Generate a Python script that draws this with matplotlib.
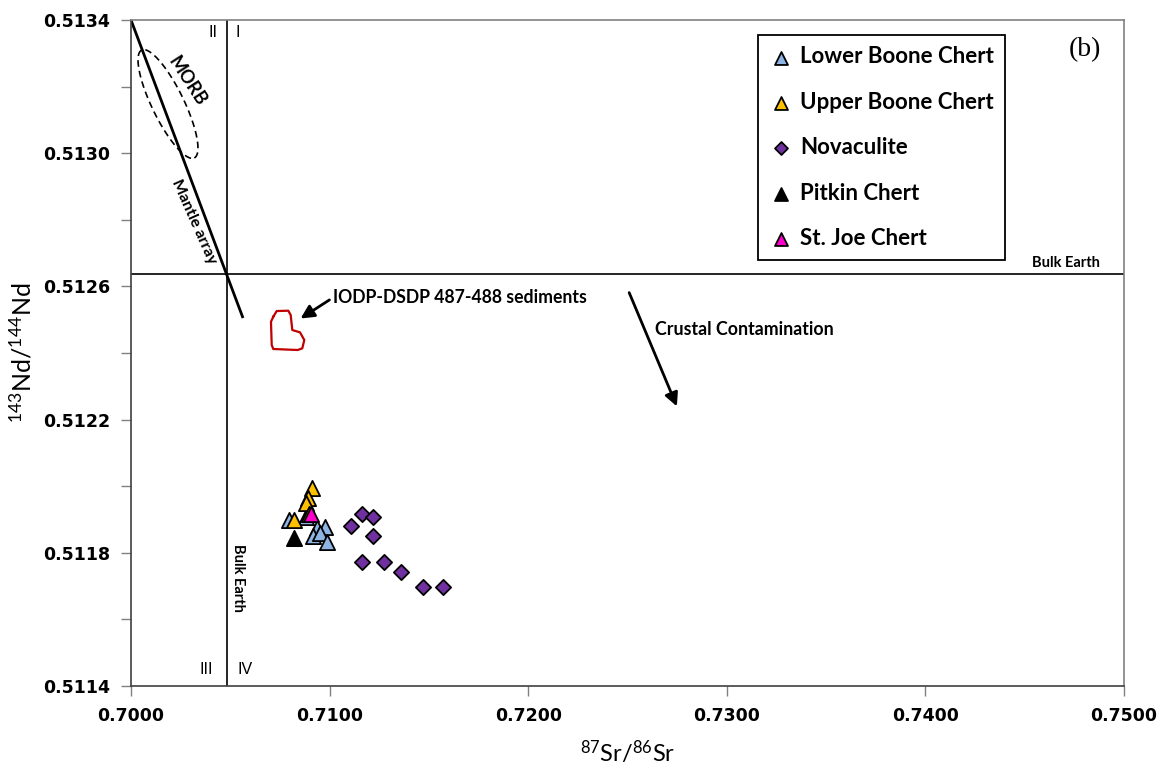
import numpy as np
import matplotlib
matplotlib.use("Agg")
import matplotlib.pyplot as plt

plt.rcParams['mathtext.fontset'] = 'custom'
plt.rcParams['mathtext.rm'] = 'Lato'
plt.rcParams['mathtext.it'] = 'Lato:italic'
plt.rcParams['mathtext.default'] = 'regular'

# ---- data ----
lower_boone_sr = [0.70796, 0.70881, 0.70937, 0.70977, 0.70916, 0.70952, 0.70987]
lower_boone_nd = [0.511898, 0.511907, 0.511874, 0.511877, 0.511850, 0.511859, 0.511832]

upper_boone_sr = [0.70911, 0.70891, 0.70881, 0.70821, 0.70896]
upper_boone_nd = [0.511995, 0.511965, 0.511950, 0.511898, 0.511917]

novaculite_sr = [0.71162, 0.71220, 0.71108, 0.71220, 0.71162, 0.71275, 0.71360, 0.71472, 0.71573]
novaculite_nd = [0.511917, 0.511907, 0.511881, 0.511851, 0.511773, 0.511773, 0.511743, 0.511698, 0.511696]

pitkin_sr = [0.70821]
pitkin_nd = [0.511844]

stjoe_sr = [0.70906]
stjoe_nd = [0.511917]

bulk_earth_sr = 0.70483
bulk_earth_nd = 0.512638

mantle_array_sr = [0.7000, 0.70564]
mantle_array_nd = [0.51340, 0.512505]

iodp_sr = [0.707165, 0.707336, 0.707920, 0.708041, 0.708122, 0.708510, 0.708726,
           0.708625, 0.708394, 0.707165, 0.707085, 0.707049, 0.707165]
iodp_nd = [0.512509, 0.512526, 0.512527, 0.512514, 0.512469, 0.512462, 0.512439,
           0.512414, 0.512409, 0.512412, 0.512424, 0.512494, 0.512509]

x_ticks = [0.70, 0.71, 0.72, 0.73, 0.74, 0.75]
y_ticks = [0.5114, 0.5118, 0.5122, 0.5126, 0.5130, 0.5134]

# ---- figure ----
fig = plt.figure(figsize=(11.66, 7.68), dpi=100)
ax = fig.add_axes([131/1166, 82/768, 993/1166, 666/768])
ax.set_xlim(0.70, 0.75)
ax.set_ylim(0.5114, 0.5134)

# reference lines
ax.axvline(bulk_earth_sr, color='black', lw=1.2, zorder=2)
ax.axhline(bulk_earth_nd, color='black', lw=1.2, zorder=2)
ax.plot(mantle_array_sr, mantle_array_nd, color='black', lw=2.0, zorder=2, solid_capstyle='butt')

# MORB dashed ellipse (drawn in pixel-like units, then axes fraction)
W, H = 993.0, 666.0
cx, cy = 168.0 - 131.0, 686.0 - 104.0
a, b = 60.0, 16.0
ang = np.deg2rad(-64)
t = np.linspace(0, 2*np.pi, 200)
ex = a*np.cos(t)
ey = b*np.sin(t)
px = cx + ex*np.cos(ang) - ey*np.sin(ang)
py = cy + ex*np.sin(ang) + ey*np.cos(ang)
ax.plot(px/W, py/H, transform=ax.transAxes, color='black', lw=1.2, ls=(0, (4, 2.5)), zorder=2)

# IODP polygon
ax.plot(iodp_sr, iodp_nd, color='#C00000', lw=1.6, zorder=2)

# arrows
ax.annotate('', xy=(0.70842, 0.512499), xytext=(0.71011, 0.512564),
            arrowprops=dict(arrowstyle='-|>', color='black', lw=2.0, mutation_scale=20))
ax.annotate('', xy=(0.72754, 0.512232), xytext=(0.72503, 0.512589),
            arrowprops=dict(arrowstyle='-|>', color='black', lw=2.0, mutation_scale=20))

# data series
ms_tri = 120
ms_dia = 60
ax.scatter(lower_boone_sr, lower_boone_nd, marker='^', s=ms_tri, c='#8DB4E2',
           edgecolors='black', linewidths=1.3, zorder=5, label='Lower Boone Chert')
ax.scatter(upper_boone_sr, upper_boone_nd, marker='^', s=ms_tri, c='#FFC000',
           edgecolors='black', linewidths=1.3, zorder=5, label='Upper Boone Chert')
ax.scatter(novaculite_sr, novaculite_nd, marker='D', s=ms_dia, c='#7030A0',
           edgecolors='black', linewidths=1.3, zorder=5, label='Novaculite')
ax.scatter(pitkin_sr, pitkin_nd, marker='^', s=ms_tri, c='black',
           edgecolors='black', linewidths=1.3, zorder=5, label='Pitkin Chert')
ax.scatter(stjoe_sr, stjoe_nd, marker='^', s=ms_tri, c='#FF00CC',
           edgecolors='black', linewidths=1.3, zorder=5, label='St. Joe Chert')

# texts
lab_font = 'Lato'
ax.text(0.71017, 0.512568, 'IODP-DSDP 487-488 sediments', fontfamily=lab_font,
        fontweight='bold', fontsize=12.7, ha='left', va='center')
ax.text(0.72638, 0.512472, 'Crustal Contamination', fontfamily=lab_font,
        fontweight='bold', fontsize=12.8, ha='left', va='center')
ax.text(0.74879, 0.512650, 'Bulk Earth', fontfamily=lab_font,
        fontweight='bold', fontsize=10.5, ha='right', va='bottom')
ax.text(0.70540, 0.511724, 'Bulk Earth', fontfamily=lab_font,
        fontweight='bold', fontsize=10.5, ha='center', va='center', rotation=-90)
ax.text(0.70285, 0.513215, 'MORB', fontfamily=lab_font,
        fontweight='bold', fontsize=13, ha='center', va='center', rotation=-57)
ax.text(0.70315, 0.512793, 'Mantle array', fontfamily=lab_font,
        fontweight='bold', fontsize=11.5, ha='center', va='center', rotation=-66)
for s, xx, yy in [('II', 0.70413, 0.513361), ('I', 0.70539, 0.513361),
                  ('III', 0.70378, 0.511451), ('IV', 0.70574, 0.511451)]:
    ax.text(xx, yy, s, fontfamily='Liberation Sans', fontsize=11.5, ha='center', va='center')
ax.text(0.74805, 0.51331, '(b)', fontfamily='Liberation Serif', fontsize=20,
        ha='center', va='center')

# axes styling
ax.set_xticks(x_ticks)
ax.set_xticklabels([f'{v:.4f}' for v in x_ticks])
ax.set_yticks(y_ticks)
ax.set_yticklabels([f'{v:.4f}' for v in y_ticks])
ax.set_yticks(np.arange(0.5116, 0.5134, 0.0004), minor=True)
for lab in ax.get_xticklabels() + ax.get_yticklabels():
    lab.set_fontweight('bold')
    lab.set_fontsize(12.5)
    lab.set_fontfamily('DejaVu Sans')
ax.tick_params(axis='both', which='both', direction='out', color='#808080', width=1.0)
ax.tick_params(axis='both', which='major', length=7, pad=8)
ax.tick_params(axis='y', which='minor', length=7)
for sp in ax.spines.values():
    sp.set_color('#808080')
    sp.set_linewidth(1.2)
ax.spines['left'].set_color('#404040')
ax.spines['bottom'].set_color('#404040')

ax.set_xlabel(r'$^{87}$Sr/$^{86}$Sr', fontfamily='Lato', fontsize=17, labelpad=10)
ax.set_ylabel(r'$^{143}$Nd/$^{144}$Nd', fontfamily='Lato', fontsize=18, labelpad=6)

leg = ax.legend(loc='upper left', bbox_to_anchor=(0.631, 0.977), frameon=True,
                fancybox=False, edgecolor='black', framealpha=1, borderpad=0.5,
                labelspacing=1.1, handlelength=1.15, handletextpad=0.25,
                markerscale=0.85, borderaxespad=0,
                prop={'family': 'Lato', 'weight': 'bold', 'size': 16})
leg.get_frame().set_linewidth(1.3)

fig.savefig('out.png', dpi=100)
